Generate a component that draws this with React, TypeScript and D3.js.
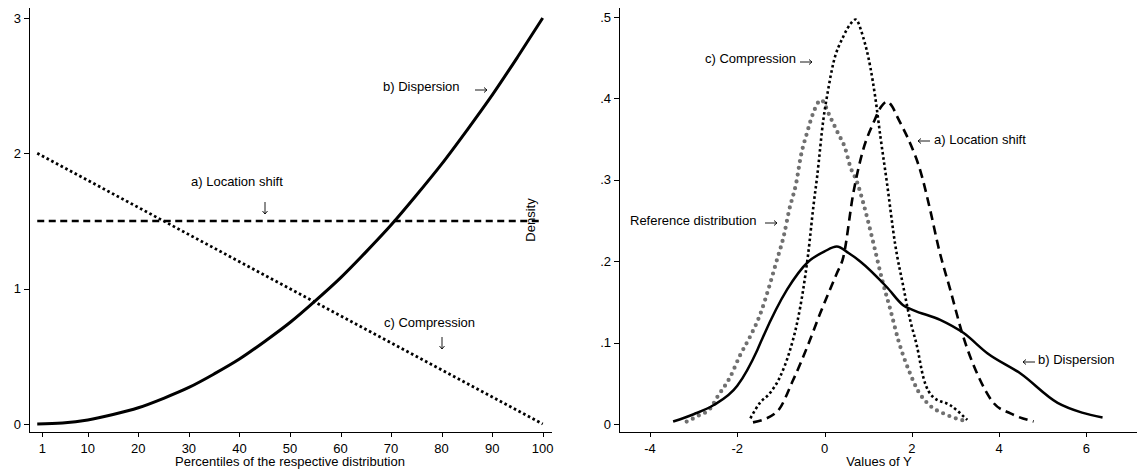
import { useEffect } from 'react'
import * as d3 from 'd3'

// left panel: percentiles vs. ratio
const percentiles = [0, 5, 10, 15, 20, 25, 30, 35, 40, 45, 50, 55, 60, 65, 70, 75, 80, 85, 90, 95, 100]
const dispersionLeft = [0, 0.0075, 0.03, 0.07, 0.12, 0.19, 0.27, 0.37, 0.48, 0.61, 0.75, 0.91, 1.08, 1.27, 1.47, 1.69, 1.92, 2.17, 2.43, 2.71, 3.0]
const locationLeftX = [0, 100]
const locationLeft = [1.5, 1.5]
const compressionLeftX = [0, 100]
const compressionLeft = [2, 0]
const leftXTicks = [1, 10, 20, 30, 40, 50, 60, 70, 80, 90, 100]
const leftYTicks = [0, 1, 2, 3]

// right panel: densities [value, density]
const referenceDensity: [number, number][] = [
  [-3.16, 0.003], [-3.08, 0.005], [-2.9, 0.01], [-2.62, 0.019], [-2.46, 0.033], [-2.16, 0.058],
  [-1.94, 0.084], [-1.71, 0.107], [-1.48, 0.134], [-1.29, 0.165], [-1.1, 0.2], [-0.93, 0.232],
  [-0.81, 0.263], [-0.65, 0.296], [-0.54, 0.33], [-0.4, 0.358], [-0.26, 0.382], [-0.08, 0.398],
  [0.13, 0.377], [0.31, 0.357], [0.47, 0.339], [0.59, 0.316], [0.74, 0.298], [0.89, 0.271],
  [1.12, 0.222], [1.32, 0.177], [1.51, 0.14], [1.69, 0.103], [1.96, 0.062], [2.15, 0.04],
  [2.35, 0.026], [2.81, 0.011], [3.29, 0.003],
]
const compressionDensity: [number, number][] = [
  [-1.7, 0.007], [-1.48, 0.026], [-1.25, 0.038], [-1.02, 0.058], [-0.79, 0.091], [-0.63, 0.124],
  [-0.49, 0.165], [-0.38, 0.207], [-0.25, 0.27], [-0.17, 0.304], [-0.03, 0.373], [0.08, 0.41],
  [0.2, 0.443], [0.43, 0.476], [0.6, 0.492], [0.71, 0.497], [0.88, 0.476], [1.05, 0.438],
  [1.16, 0.402], [1.28, 0.353], [1.43, 0.296], [1.62, 0.22], [1.8, 0.17], [1.96, 0.128],
  [2.12, 0.095], [2.26, 0.058], [2.49, 0.033], [2.88, 0.023], [3.27, 0.005],
]
const locationDensity: [number, number][] = [
  [-1.64, 0.002], [-1.09, 0.015], [-0.72, 0.054], [-0.38, 0.097], [-0.1, 0.136], [0.28, 0.185],
  [0.43, 0.205], [0.66, 0.284], [0.88, 0.336], [1.12, 0.37], [1.3, 0.39], [1.43, 0.396],
  [1.55, 0.39], [1.67, 0.377], [1.96, 0.345], [2.19, 0.312], [2.42, 0.263], [2.62, 0.215],
  [2.88, 0.165], [3.18, 0.107], [3.53, 0.058], [3.87, 0.026], [4.26, 0.013], [4.79, 0.003],
]
const dispersionDensity: [number, number][] = [
  [-3.47, 0.003], [-3.0, 0.012], [-2.55, 0.023], [-2.0, 0.047], [-1.54, 0.091], [-1.41, 0.107],
  [-0.86, 0.165], [-0.38, 0.199], [0.0, 0.212], [0.28, 0.218], [0.55, 0.21], [0.81, 0.2],
  [1.43, 0.168], [1.8, 0.146], [2.03, 0.14], [2.65, 0.128], [3.18, 0.112], [3.73, 0.087],
  [4.49, 0.062], [5.34, 0.026], [5.9, 0.014], [6.37, 0.008],
]
const rightXTicks = [-4, -2, 0, 2, 4, 6]
const rightYTicks = [0, 0.1, 0.2, 0.3, 0.4, 0.5]

const W = 1137
const H = 473
const FONT = '"Liberation Sans", Arial, sans-serif'

// small annotation arrow (thin shaft, open head), drawn around its centre
function Arrow({ x, y, dir }: { x: number; y: number; dir: 'right' | 'left' | 'down' }) {
  const L = 6
  const h = 3
  let d = ''
  if (dir === 'right') d = `M${x - L},${y}H${x + L}M${x + L - h},${y - 2.5}L${x + L},${y}L${x + L - h},${y + 2.5}`
  if (dir === 'left') d = `M${x + L},${y}H${x - L}M${x - L + h},${y - 2.5}L${x - L},${y}L${x - L + h},${y + 2.5}`
  if (dir === 'down') d = `M${x},${y - L}V${y + L}M${x - 2.5},${y + L - h}L${x},${y + L}L${x + 2.5},${y + L - h}`
  return <path d={d} fill="none" stroke="#000" strokeWidth={0.9} />
}

export default function App() {
  useEffect(() => {
    document.body.style.margin = '0'
  }, [])

  // left scales
  const lx = d3.scaleLinear().domain([1, 100]).range([42.3, 542.7])
  const ly = d3.scaleLinear().domain([0, 3]).range([424, 18])
  // right scales
  const rx = d3.scaleLinear().domain([-4, 6]).range([650, 1086.4])
  const ry = d3.scaleLinear().domain([0, 0.5]).range([424, 17])

  const leftLine = d3.line<[number, number]>().x(d => lx(d[0])).y(d => ly(d[1])).curve(d3.curveMonotoneX)
  const rightLine = d3.line<[number, number]>().x(d => rx(d[0])).y(d => ry(d[1])).curve(d3.curveMonotoneX)

  const zip = (xs: number[], ys: number[]) => xs.map((x, i) => [x, ys[i]] as [number, number])

  const axisY = 432
  const lAxisX = 29
  const rAxisX = 619
  const yFmt = (v: number) => (v === 0 ? '0' : d3.format('.1f')(v).replace(/^0/, ''))

  return (
    <svg width={W} height={H} style={{ display: 'block', background: '#fff' }} fontFamily={FONT} fontSize={13}>
      {/* left axes */}
      <g stroke="#000" strokeWidth={1} shapeRendering="crispEdges">
        <line x1={lAxisX + 0.5} x2={lAxisX + 0.5} y1={8} y2={axisY} />
        <line x1={lAxisX} x2={552} y1={axisY + 0.5} y2={axisY + 0.5} />
        {leftYTicks.map(t => (
          <line key={'lyt' + t} x1={lAxisX - 5} x2={lAxisX} y1={Math.round(ly(t)) + 0.5} y2={Math.round(ly(t)) + 0.5} />
        ))}
        {leftXTicks.map(t => (
          <line key={'lxt' + t} x1={Math.round(lx(t)) + 0.5} x2={Math.round(lx(t)) + 0.5} y1={axisY} y2={axisY + 5} />
        ))}
      </g>
      {leftYTicks.map(t => (
        <text key={'lyl' + t} x={lAxisX - 8} y={ly(t)} dy="0.35em" textAnchor="end">{t}</text>
      ))}
      {leftXTicks.map(t => (
        <text key={'lxl' + t} x={lx(t)} y={453} textAnchor="middle">{t}</text>
      ))}
      <text x={290} y={466} textAnchor="middle">Percentiles of the respective distribution</text>

      {/* left curves */}
      <path d={leftLine(zip(percentiles, dispersionLeft)) || ''} fill="none" stroke="#000" strokeWidth={3} />
      <path d={leftLine(zip(locationLeftX, locationLeft)) || ''} fill="none" stroke="#000" strokeWidth={2.6} strokeDasharray="7 4.5" />
      <path d={leftLine(zip(compressionLeftX, compressionLeft)) || ''} fill="none" stroke="#000" strokeWidth={2.8} strokeDasharray="2.6 2.7" />

      {/* left annotations */}
      <text x={383} y={91}>b) Dispersion</text>
      <Arrow x={481} y={90} dir="right" />
      <text x={191} y={186}>a) Location shift</text>
      <Arrow x={265} y={208} dir="down" />
      <text x={384} y={327}>c) Compression</text>
      <Arrow x={442} y={343} dir="down" />

      {/* right axes */}
      <g stroke="#000" strokeWidth={1} shapeRendering="crispEdges">
        <line x1={rAxisX + 0.5} x2={rAxisX + 0.5} y1={8} y2={axisY} />
        <line x1={rAxisX} x2={1137} y1={axisY + 0.5} y2={axisY + 0.5} />
        {rightYTicks.map(t => (
          <line key={'ryt' + t} x1={rAxisX - 5} x2={rAxisX} y1={Math.round(ry(t)) + 0.5} y2={Math.round(ry(t)) + 0.5} />
        ))}
        {rightXTicks.map(t => (
          <line key={'rxt' + t} x1={Math.round(rx(t)) + 0.5} x2={Math.round(rx(t)) + 0.5} y1={axisY} y2={axisY + 5} />
        ))}
      </g>
      {rightYTicks.map(t => (
        <text key={'ryl' + t} x={rAxisX - 8} y={ry(t)} dy="0.35em" textAnchor="end">{yFmt(t)}</text>
      ))}
      {rightXTicks.map(t => (
        <text key={'rxl' + t} x={rx(t)} y={453} textAnchor="middle">{t}</text>
      ))}
      <text x={879} y={466} textAnchor="middle">Values of Y</text>
      <text transform="translate(535,220) rotate(-90)" textAnchor="middle">Density</text>

      {/* right curves */}
      <path d={rightLine(referenceDensity) || ''} fill="none" stroke="#707070" strokeWidth={4.2} strokeLinecap="round" strokeDasharray="0 6.8" />
      <path d={rightLine(dispersionDensity) || ''} fill="none" stroke="#000" strokeWidth={2.5} />
      <path d={rightLine(locationDensity) || ''} fill="none" stroke="#000" strokeWidth={2.6} strokeDasharray="9 5.5" />
      <path d={rightLine(compressionDensity) || ''} fill="none" stroke="#000" strokeWidth={2.6} strokeDasharray="2.6 2.7" />

      {/* right annotations */}
      <text x={705} y={63}>c) Compression</text>
      <Arrow x={806} y={62} dir="right" />
      <Arrow x={924} y={141} dir="left" />
      <text x={934} y={144}>a) Location shift</text>
      <text x={630} y={225}>Reference distribution</text>
      <Arrow x={771} y={223} dir="right" />
      <Arrow x={1029} y={362} dir="left" />
      <text x={1038} y={364}>b) Dispersion</text>
    </svg>
  )
}
